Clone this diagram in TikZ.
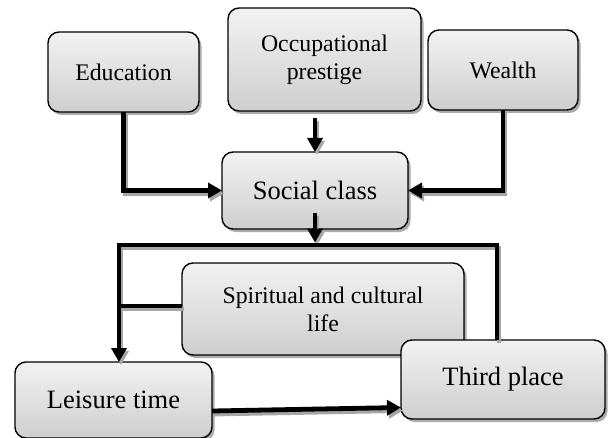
\documentclass[tikz,border=0pt]{standalone}
\usepackage{fontspec}
\setmainfont{Liberation Serif}
\usetikzlibrary{shadows,arrows.meta}
\newcommand\myconnectors[1]{%
\draw[conn,tip,#1] (edu.south) |- (social.west);
\draw[conn,tip,#1] ([yshift=-7pt]social.north |- occ.south) -- (social.north);
\draw[conn,tip,#1] (wealth.south) |- (social.east);
\draw[conn,tip,#1] ([yshift=16pt]social.south) -- ([yshift=2.5pt]social.south |- barL);
\draw[conn,tip,#1] (barR |- third.north) -- (barR) -- (barL) -- (barL |- leisure.north);
\draw[conn,#1] (spirit.west |- 0,306) -- (barL |- 0,306);
\draw[conn,tip,#1] ([yshift=-11pt]leisure.east) -- ([yshift=-28pt]third.west);
}
\begin{document}
\begin{tikzpicture}[x=1pt,y=-1pt,
  box/.style={draw=black, line width=1.4pt, rounded corners=11pt,
    top color=gray!10, bottom color=gray!38, align=center,
    inner sep=0pt, outer sep=0pt,
    drop shadow={shadow xshift=2.5pt, shadow yshift=-3pt, fill=black!55, opacity=0.6}},
  smalltxt/.style={font=\fontsize{23.8}{28}\selectfont},
  bigtxt/.style={font=\fontsize{26.5}{31}\selectfont},
  conn/.style={line width=4.8pt, draw=black},
  shadowline/.style={draw=black!35},
  tip/.style={-{Triangle[length=14pt,width=15pt]}}
]
\useasboundingbox (0,0) rectangle (609,438);
\node[box,smalltxt,minimum width=151pt,minimum height=80pt] (edu) at (123.5,72) {Education};
\node[box,smalltxt,minimum width=193pt,minimum height=103pt] (occ) at (324.5,59.5) {Occupational\\prestige};
\node[box,smalltxt,minimum width=150pt,minimum height=80pt] (wealth) at (503,70) {Wealth};
\node[box,bigtxt,minimum width=186pt,minimum height=77pt] (social) at (315,190.5) {Social class};
\node[box,smalltxt,minimum width=282pt,minimum height=92pt] (spirit) at (323,309) {Spiritual and cultural\\life};
\node[box,bigtxt,minimum width=197pt,minimum height=76pt] (leisure) at (113.5,400) {Leisure time};
\node[box,bigtxt,minimum width=204pt,minimum height=79pt] (third) at (503,379.5) {Third place};
\coordinate (barL) at (119,245);
\coordinate (barR) at (497,245);
\begin{scope}[transform canvas={shift={(2pt,-3pt)}}]
\myconnectors{shadowline}
\end{scope}
\myconnectors{}
\end{tikzpicture}
\end{document}
